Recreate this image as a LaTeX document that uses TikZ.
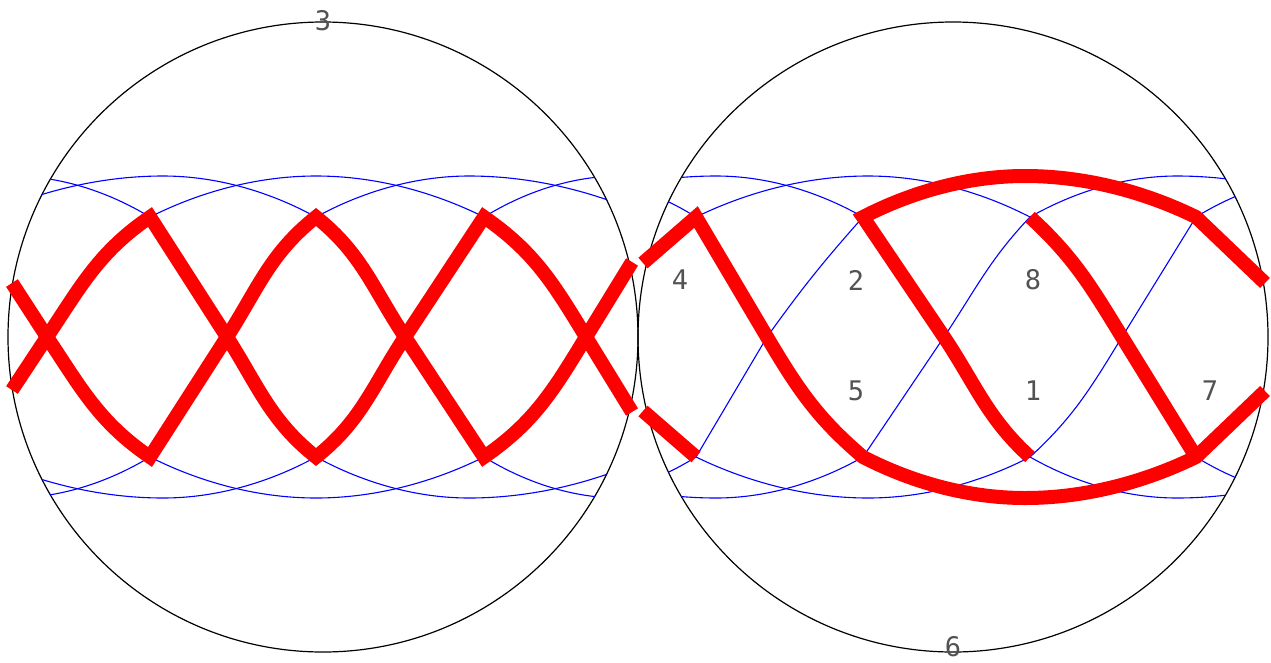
\documentclass[tikz,border=0pt]{standalone}
\usepackage{fontspec}
\setmonofont{DejaVu Sans Mono}
\usepackage{tikz}

\begin{document}
\begin{tikzpicture}[
    x=1pt, y=-1pt,
    disk/.style={draw=black, line width=1.2pt},
    band/.style={draw=blue, line width=1.1pt},
    zig/.style={draw=red, line width=14pt, line join=miter},
    num/.style={font=\ttfamily\fontsize{27}{27}\selectfont, text=black!68,
                inner sep=0pt},
]
\useasboundingbox (0,0) rectangle (1271,662);

% vertices, crossings and rim ends, left disk
\coordinate (T1) at (150,217); \coordinate (T2) at (316,217); \coordinate (T3) at (484,217);
\coordinate (B1) at (150,457); \coordinate (B2) at (316,457); \coordinate (B3) at (484,457);
\coordinate (C0) at (47,337);  \coordinate (C1) at (227,337);
\coordinate (C2) at (405,337); \coordinate (C3) at (586,337);
\coordinate (E1) at (12,283);  \coordinate (E2) at (12,390);
\coordinate (E3) at (632,262); \coordinate (E4) at (632,412);

% vertices, crossings and rim ends, right disk
\coordinate (R0) at (696,217); \coordinate (R1) at (863,217);
\coordinate (R2) at (1030,217); \coordinate (R3) at (1196,217);
\coordinate (S0) at (696,457); \coordinate (S1) at (863,457);
\coordinate (S2) at (1030,457); \coordinate (S3) at (1196,457);
\coordinate (D1) at (767,337); \coordinate (D2) at (944,337); \coordinate (D3) at (1122,337);
\coordinate (E5) at (643,263); \coordinate (E6) at (643,411);
\coordinate (E7) at (1265,283); \coordinate (E8) at (1265,391);

% the two disks
\draw[disk] (323,337) circle[radius=315pt];
\draw[disk] (953,337) circle[radius=315pt];

% blue bands, left disk
\begin{scope}
\clip (323,337) circle[radius=315pt];
\foreach \a/\p/\b in {-184/12/150, -17/163/316, 150/316/484, 316/469/650, 484/620/817} {
    \draw[band] (\a,217) parabola bend (\p,176) (\b,217);
    \draw[band] (\a,457) parabola bend (\p,498) (\b,457);
}
\end{scope}

% blue bands and diagonals, right disk
\begin{scope}
\clip (953,337) circle[radius=315pt];
\foreach \a/\p/\b in {361/562/696, 528/716/863, 696/868/1030, 1030/1177/1364, 1196/1331/1530} {
    \draw[band] (\a,217) parabola bend (\p,176) (\b,217);
    \draw[band] (\a,457) parabola bend (\p,498) (\b,457);
}
\draw[band] (S0) -- (D1) to[out=3, in=177, relative] (R1);
\draw[band] (S1) -- (D2) to[out=2, in=172, relative] (R2);
\draw[band] (S2) to[out=-10, in=186, relative] (D3) -- (R3);
\end{scope}

% red zigzags, left disk
\draw[zig] (E2) -- (C0) to[out=7, in=165, relative] (T1)
    -- (C1) to[out=-4, in=195, relative] (B2)
    to[out=-15, in=183, relative] (C2) -- (T3)
    to[out=15, in=171, relative] (C3) -- (E4);
\draw[zig] (E1) -- (C0) to[out=-7, in=195, relative] (B1)
    -- (C1) to[out=4, in=165, relative] (T2)
    to[out=15, in=177, relative] (C2) -- (B3)
    to[out=-15, in=189, relative] (C3) -- (E3);

% red paths, right disk
\draw[zig] (E5) -- (R0) -- (D1) to[out=-8, in=191, relative] (S1)
    parabola bend (1025,498) (S3) -- (E8);
\draw[zig] (S2) to[out=12, in=178, relative] (D2) -- (R1)
    parabola bend (1025,176) (R3) -- (E7);
\draw[zig] (R2) to[out=10, in=174, relative] (D3) -- (S3);
\draw[zig] (E6) -- (S0);

% labels
\node[num] (n3) at (323,21) {3};
\node[num] (n6) at (953,647) {6};
\node[num] (n4) at (680,280) {4};
\node[num] (n2) at (856,280) {2};
\node[num] (n8) at (1033,280) {8};
\node[num] (n5) at (856,391) {5};
\node[num] (n1) at (1033,391) {1};
\node[num] (n7) at (1210,391) {7};

\end{tikzpicture}
\end{document}
